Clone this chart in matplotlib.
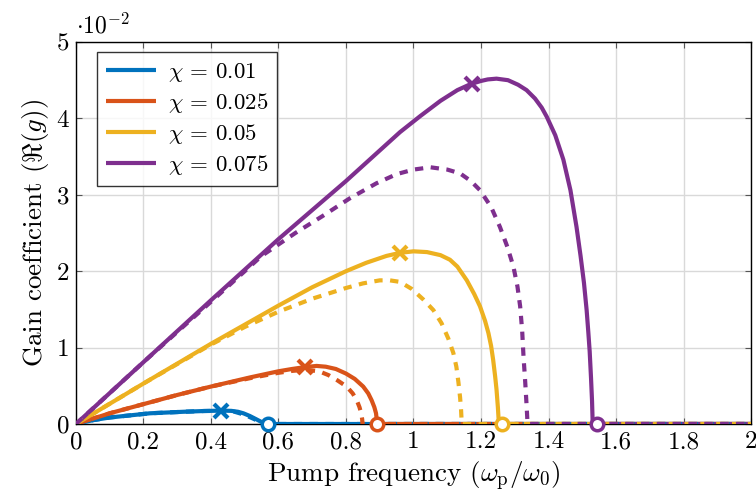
import numpy as np
import matplotlib
matplotlib.use("Agg")
import matplotlib.pyplot as plt

plt.rcParams['font.family'] = 'serif'
plt.rcParams['font.serif'] = ['cmr10']
plt.rcParams['mathtext.fontset'] = 'cm'
plt.rcParams['axes.formatter.use_mathtext'] = True

# gain values in units of 1e-2
chis = ['0.01', '0.025', '0.05', '0.075']
colors = ['#0072BD', '#D95319', '#EDB120', '#7E2F8E']

# solid curves
w_solid = [
    [0, 0.05, 0.1, 0.219, 0.318, 0.38, 0.43, 0.46, 0.48, 0.496, 0.515, 0.535, 0.548, 0.558, 0.562],
    [0, 0.1, 0.2, 0.3, 0.4, 0.516, 0.6, 0.64, 0.679, 0.713, 0.74, 0.77, 0.8, 0.826, 0.851, 0.866,
     0.876, 0.884, 0.889, 0.891, 0.892],
    [0, 0.2, 0.4, 0.6, 0.7, 0.8, 0.86, 0.92, 0.96, 1.0, 1.04, 1.08, 1.108, 1.13, 1.158, 1.18,
     1.197, 1.212, 1.222, 1.23, 1.236, 1.242, 1.246, 1.25, 1.253],
    [0, 0.2, 0.4, 0.6, 0.8, 0.88, 0.96, 1.02, 1.08, 1.13, 1.17, 1.2, 1.22, 1.246, 1.28, 1.31,
     1.335, 1.36, 1.38, 1.395, 1.42, 1.444, 1.465, 1.483, 1.495, 1.505, 1.513, 1.518, 1.522,
     1.526, 1.529, 1.531],
]
g_solid = [
    [0, 0.05, 0.085, 0.14, 0.16, 0.17, 0.175, 0.172, 0.16, 0.14, 0.105, 0.06, 0.03, 0.01, 0],
    [0, 0.14, 0.26, 0.38, 0.49, 0.61, 0.69, 0.72, 0.745, 0.76, 0.75, 0.72, 0.66, 0.59, 0.49, 0.40,
     0.31, 0.22, 0.14, 0.06, 0],
    [0, 0.53, 1.05, 1.55, 1.79, 2.0, 2.11, 2.2, 2.24, 2.26, 2.25, 2.21, 2.15, 2.06, 1.88, 1.70,
     1.54, 1.35, 1.19, 1.02, 0.84, 0.62, 0.45, 0.22, 0],
    [0, 0.81, 1.62, 2.42, 3.18, 3.5, 3.82, 4.03, 4.23, 4.37, 4.45, 4.49, 4.51, 4.52, 4.50, 4.44,
     4.37, 4.26, 4.14, 4.02, 3.78, 3.46, 3.06, 2.58, 2.2, 1.85, 1.49, 1.2, 0.95,
     0.6, 0.3, 0],
]
# dashed curves
w_dash = [
    [0, 0.05, 0.1, 0.219, 0.318, 0.38, 0.43, 0.47, 0.5, 0.53, 0.548],
    [0, 0.1, 0.2, 0.3, 0.4, 0.516, 0.6, 0.64, 0.68, 0.72, 0.748, 0.775, 0.802, 0.82, 0.832, 0.84,
     0.845, 0.848, 0.849],
    [0, 0.2, 0.4, 0.5, 0.6, 0.7, 0.8, 0.85, 0.9, 0.93, 0.96, 0.994, 1.029, 1.059, 1.083, 1.103,
     1.118, 1.127, 1.133, 1.138, 1.141, 1.143],
    [0, 0.2, 0.4, 0.55, 0.65, 0.73, 0.81, 0.89, 0.95, 1.0, 1.05, 1.1, 1.138, 1.17, 1.197, 1.23,
     1.256, 1.278, 1.296, 1.308, 1.316, 1.322, 1.326, 1.331, 1.335, 1.338],
]
g_dash = [
    [0, 0.05, 0.085, 0.14, 0.16, 0.17, 0.172, 0.16, 0.12, 0.06, 0],
    [0, 0.14, 0.26, 0.38, 0.49, 0.6, 0.67, 0.695, 0.71, 0.69, 0.64, 0.57, 0.49, 0.40, 0.31, 0.22,
     0.14, 0.06, 0],
    [0, 0.53, 1.04, 1.27, 1.47, 1.64, 1.78, 1.84, 1.88, 1.88, 1.86, 1.77, 1.63, 1.49, 1.32, 1.12,
     0.93, 0.75, 0.55, 0.35, 0.18, 0],
    [0, 0.81, 1.6, 2.2, 2.5, 2.72, 2.95, 3.15, 3.27, 3.33, 3.36, 3.33, 3.28, 3.18, 3.06, 2.84,
     2.58, 2.32, 2.06, 1.80, 1.54, 1.22, 0.88, 0.55, 0.25, 0],
]
# x marker and circle marker positions
x_peak = [0.43, 0.679, 0.96, 1.172]
g_peak = [0.175, 0.745, 2.24, 4.45]
x_cut = [0.57, 0.891, 1.261, 1.543]

fig = plt.figure(figsize=(7.56, 5.01), dpi=100)
ax = fig.add_axes([0.1005, 0.1537, 0.8929, 0.7625])

lw = 3.0
for i in range(4):
    ax.plot(w_solid[i] + [2.0], g_solid[i] + [0], color=colors[i], lw=lw,
            solid_capstyle='butt', solid_joinstyle='round', zorder=3,
            label=r'$\chi$ = ' + chis[i])
for i in range(4):
    ax.plot(w_dash[i] + [2.0], g_dash[i] + [0], color=colors[i], lw=lw,
            ls=(0, (2.0, 1.8)), zorder=4)
for i in range(4):
    ax.plot(x_peak[i], g_peak[i], 'x', color=colors[i], ms=10, mew=3, zorder=5)
    ax.plot(x_cut[i], 0, 'o', color=colors[i], ms=9, mew=2.5, mfc='white', zorder=5, clip_on=False)

ax.set_xlim(0, 2)
ax.set_ylim(0, 5)
ax.set_xticks(np.arange(0, 2.01, 0.2))
ax.set_xticklabels(['0', '0.2', '0.4', '0.6', '0.8', '1', '1.2', '1.4', '1.6', '1.8', '2'])
ax.set_yticks([0, 1, 2, 3, 4, 5])
ax.set_yticklabels(['0', '1', '2', '3', '4', '5'])
ax.grid(True, color='#d9d9d9', lw=1.0)
ax.set_axisbelow(True)
ax.tick_params(direction='in', length=4, width=0.8, color='#555555', labelsize=18,
               top=True, right=True, pad=5)
for s in ax.spines.values():
    s.set_linewidth(1.0)

ax.set_xlabel(r'Pump frequency ($\omega_\mathrm{p}/\omega_0$)', fontsize=19.5, labelpad=5)
ax.set_ylabel(r'Gain coefficient ($\Re(g)$)', fontsize=19.5, labelpad=4)
ax.text(0.0, 1.01, r'$\cdot 10^{-2}$', transform=ax.transAxes, fontsize=17,
        ha='left', va='bottom')

leg = ax.legend(loc='upper left', bbox_to_anchor=(0.031, 0.974), fontsize=16.5,
                frameon=True, fancybox=False, edgecolor='black', handlelength=2.2,
                borderpad=0.4, labelspacing=0.3, handletextpad=0.5, borderaxespad=0)
leg.get_frame().set_linewidth(1.0)

fig.savefig('out.png', dpi=100)
